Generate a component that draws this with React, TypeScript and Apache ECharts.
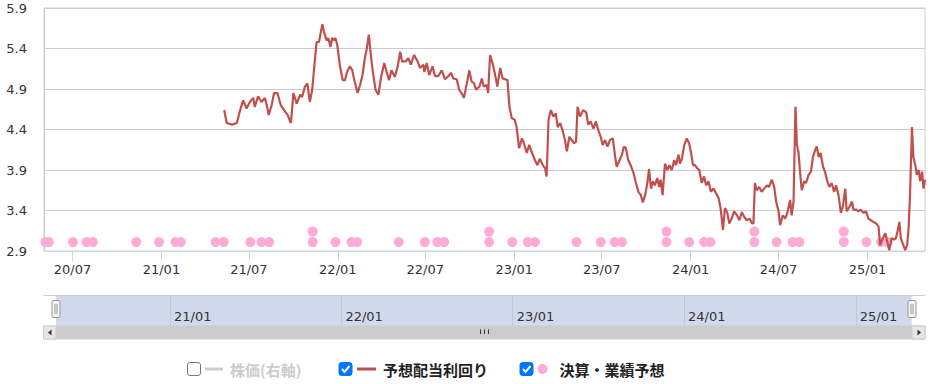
import React, { useEffect, useRef } from 'react';
import * as echarts from 'echarts';

// ---- data ----
const axisStart = '2020-05-03';
const axisEnd = '2025-04-30';

const xTickLabels = ['20/07', '21/01', '21/07', '22/01', '22/07', '23/01', '23/07', '24/01', '24/07', '25/01'];
const navTickLabels = ['21/01', '22/01', '23/01', '24/01', '25/01'];

const yMin = 2.9;
const yMax = 5.9;
const yStep = 0.5;

const seriesNames = ['株価(右軸)', '予想配当利回り', '決算・業績予想'];

// stock price series is hidden (legend unchecked) in the reference
const stockPoints: [string, number][] = [];

const yieldPoints: [string, number][] = [
  ['2021-05-11', 4.64], ['2021-05-16', 4.48], ['2021-05-27', 4.46], ['2021-06-06', 4.48],
  ['2021-06-12', 4.62], ['2021-06-19', 4.76], ['2021-06-26', 4.66], ['2021-07-03', 4.74],
  ['2021-07-10', 4.79], ['2021-07-13', 4.68], ['2021-07-20', 4.81], ['2021-07-27', 4.74],
  ['2021-08-03', 4.79], ['2021-08-07', 4.70], ['2021-08-11', 4.58], ['2021-08-17', 4.70],
  ['2021-08-22', 4.85], ['2021-08-29', 4.85], ['2021-09-05', 4.70], ['2021-09-14', 4.62],
  ['2021-09-19', 4.58], ['2021-09-26', 4.48], ['2021-10-01', 4.85], ['2021-10-08', 4.72],
  ['2021-10-15', 4.83], ['2021-10-19', 4.80], ['2021-10-25', 4.93], ['2021-10-30', 4.97],
  ['2021-11-04', 4.74], ['2021-11-09', 4.89], ['2021-11-13', 5.16], ['2021-11-18', 5.48],
  ['2021-11-23', 5.48], ['2021-11-30', 5.70], ['2021-12-04', 5.59], ['2021-12-09', 5.50],
  ['2021-12-12', 5.53], ['2021-12-17', 5.42], ['2021-12-20', 5.53], ['2021-12-25', 5.50],
  ['2021-12-27', 5.53], ['2021-12-31', 5.44], ['2022-01-05', 5.20], ['2022-01-11', 5.01],
  ['2022-01-16', 5.01], ['2022-01-20', 5.11], ['2022-01-26', 5.18], ['2022-01-31', 5.13],
  ['2022-02-04', 5.01], ['2022-02-11', 4.85], ['2022-02-16', 4.95], ['2022-02-21', 5.07],
  ['2022-02-26', 5.28], ['2022-03-02', 5.40], ['2022-03-06', 5.57], ['2022-03-11', 5.28],
  ['2022-03-15', 5.09], ['2022-03-20', 4.89], ['2022-03-26', 4.83], ['2022-03-31', 5.03],
  ['2022-04-07', 5.22], ['2022-04-12', 5.11], ['2022-04-17', 5.01], ['2022-04-22', 5.13],
  ['2022-04-29', 5.05], ['2022-05-05', 5.18], ['2022-05-10', 5.36], ['2022-05-14', 5.24],
  ['2022-05-21', 5.24], ['2022-05-27', 5.28], ['2022-06-01', 5.20], ['2022-06-08', 5.32],
  ['2022-06-15', 5.24], ['2022-06-20', 5.16], ['2022-06-27', 5.20], ['2022-06-29', 5.11],
  ['2022-07-04', 5.22], ['2022-07-09', 5.07], ['2022-07-16', 5.18], ['2022-07-21', 5.06],
  ['2022-07-28', 5.06], ['2022-08-04', 5.13], ['2022-08-11', 5.02], ['2022-08-18', 5.06],
  ['2022-08-23', 5.10], ['2022-08-28', 5.03], ['2022-09-04', 5.02], ['2022-09-09', 4.89],
  ['2022-09-14', 4.85], ['2022-09-19', 4.79], ['2022-09-25', 4.97], ['2022-09-30', 5.13],
  ['2022-10-05', 4.99], ['2022-10-10', 4.97], ['2022-10-14', 4.89], ['2022-10-21', 4.93],
  ['2022-10-26', 5.03], ['2022-10-30', 4.93], ['2022-11-05', 4.95], ['2022-11-08', 4.85],
  ['2022-11-12', 5.32], ['2022-11-17', 5.22], ['2022-11-22', 5.09], ['2022-11-27', 4.93],
  ['2022-12-03', 5.16], ['2022-12-08', 5.03], ['2022-12-13', 5.02], ['2022-12-18', 5.01],
  ['2022-12-22', 4.68], ['2022-12-27', 4.54], ['2023-01-02', 4.52], ['2023-01-06', 4.43],
  ['2023-01-11', 4.17], ['2023-01-17', 4.29], ['2023-01-21', 4.23], ['2023-01-27', 4.11],
  ['2023-02-01', 4.21], ['2023-02-07', 4.11], ['2023-02-13', 4.02], ['2023-02-18', 3.96],
  ['2023-02-23', 4.04], ['2023-03-01', 3.96], ['2023-03-06', 3.92], ['2023-03-09', 3.82],
  ['2023-03-13', 4.52], ['2023-03-18', 4.64], ['2023-03-23', 4.56], ['2023-03-28', 4.60],
  ['2023-04-01', 4.43], ['2023-04-06', 4.48], ['2023-04-11', 4.39], ['2023-04-16', 4.27],
  ['2023-04-20', 4.13], ['2023-04-25', 4.31], ['2023-04-30', 4.27], ['2023-05-05', 4.23],
  ['2023-05-09', 4.25], ['2023-05-12', 4.68], ['2023-05-17', 4.56], ['2023-05-24', 4.64],
  ['2023-05-30', 4.61], ['2023-06-03', 4.46], ['2023-06-08', 4.50], ['2023-06-14', 4.41],
  ['2023-06-19', 4.50], ['2023-06-24', 4.39], ['2023-06-29', 4.31], ['2023-07-03', 4.21],
  ['2023-07-08', 4.27], ['2023-07-13', 4.19], ['2023-07-18', 4.27], ['2023-07-24', 4.29],
  ['2023-07-29', 4.06], ['2023-08-01', 3.94], ['2023-08-07', 4.02], ['2023-08-12', 4.09],
  ['2023-08-16', 4.19], ['2023-08-20', 4.17], ['2023-08-25', 4.02], ['2023-08-30', 3.96],
  ['2023-09-05', 3.86], ['2023-09-10', 3.74], ['2023-09-15', 3.63], ['2023-09-20', 3.59],
  ['2023-09-24', 3.50], ['2023-09-29', 3.59], ['2023-10-04', 3.76], ['2023-10-07', 3.91],
  ['2023-10-11', 3.67], ['2023-10-15', 3.76], ['2023-10-19', 3.71], ['2023-10-24', 3.80],
  ['2023-10-28', 3.69], ['2023-10-31', 3.78], ['2023-11-04', 3.59], ['2023-11-09', 3.98],
  ['2023-11-14', 3.90], ['2023-11-18', 3.96], ['2023-11-23', 3.90], ['2023-11-28', 4.02],
  ['2023-12-02', 3.96], ['2023-12-07', 4.09], ['2023-12-10', 3.98], ['2023-12-14', 4.04],
  ['2023-12-19', 4.21], ['2023-12-24', 4.29], ['2023-12-29', 4.23], ['2024-01-02', 4.11],
  ['2024-01-06', 3.96], ['2024-01-10', 3.96], ['2024-01-15', 3.92], ['2024-01-19', 3.90],
  ['2024-01-24', 3.74], ['2024-01-29', 3.82], ['2024-02-02', 3.71], ['2024-02-07', 3.76],
  ['2024-02-12', 3.63], ['2024-02-17', 3.67], ['2024-02-23', 3.61], ['2024-02-28', 3.55],
  ['2024-03-03', 3.43], ['2024-03-08', 3.16], ['2024-03-12', 3.43], ['2024-03-17', 3.37],
  ['2024-03-21', 3.24], ['2024-03-26', 3.30], ['2024-03-31', 3.39], ['2024-04-06', 3.34],
  ['2024-04-11', 3.28], ['2024-04-16', 3.38], ['2024-04-21', 3.32], ['2024-04-26', 3.28],
  ['2024-05-02', 3.30], ['2024-05-07', 3.24], ['2024-05-10', 3.24], ['2024-05-13', 3.74],
  ['2024-05-17', 3.65], ['2024-05-22', 3.69], ['2024-05-27', 3.63], ['2024-06-01', 3.67],
  ['2024-06-07', 3.71], ['2024-06-11', 3.69], ['2024-06-17', 3.78], ['2024-06-22', 3.69],
  ['2024-06-26', 3.51], ['2024-07-01', 3.39], ['2024-07-04', 3.22], ['2024-07-10', 3.34],
  ['2024-07-15', 3.30], ['2024-07-19', 3.37], ['2024-07-25', 3.53], ['2024-07-28', 3.34],
  ['2024-08-01', 3.51], ['2024-08-05', 4.68], ['2024-08-08', 4.21], ['2024-08-11', 4.13],
  ['2024-08-15', 3.84], ['2024-08-18', 3.65], ['2024-08-23', 3.76], ['2024-08-27', 3.74],
  ['2024-09-01', 3.84], ['2024-09-06', 3.88], ['2024-09-10', 4.06], ['2024-09-15', 4.15],
  ['2024-09-18', 4.19], ['2024-09-22', 4.06], ['2024-09-26', 4.11], ['2024-10-01', 3.94],
  ['2024-10-05', 3.88], ['2024-10-10', 3.76], ['2024-10-14', 3.69], ['2024-10-19', 3.74],
  ['2024-10-24', 3.63], ['2024-10-28', 3.71], ['2024-11-02', 3.59], ['2024-11-07', 3.37],
  ['2024-11-11', 3.45], ['2024-11-16', 3.67], ['2024-11-19', 3.39], ['2024-11-25', 3.45],
  ['2024-11-30', 3.51], ['2024-12-03', 3.41], ['2024-12-09', 3.41], ['2024-12-13', 3.39],
  ['2024-12-18', 3.41], ['2024-12-24', 3.37], ['2024-12-29', 3.39], ['2025-01-03', 3.30],
  ['2025-01-08', 3.28], ['2025-01-13', 3.26], ['2025-01-19', 3.24], ['2025-01-24', 3.20],
  ['2025-01-27', 2.97], ['2025-02-02', 3.06], ['2025-02-07', 3.12], ['2025-02-11', 3.01],
  ['2025-02-15', 2.91], ['2025-02-20', 3.06], ['2025-02-25', 3.04], ['2025-03-01', 3.06],
  ['2025-03-04', 3.14], ['2025-03-08', 3.26], ['2025-03-11', 3.06], ['2025-03-15', 2.99],
  ['2025-03-20', 2.91], ['2025-03-24', 2.97], ['2025-03-27', 3.18], ['2025-03-30', 3.59],
  ['2025-04-03', 4.43], ['2025-04-06', 4.06], ['2025-04-10', 3.96], ['2025-04-13', 3.84],
  ['2025-04-17', 3.90], ['2025-04-20', 3.76], ['2025-04-24', 3.88], ['2025-04-27', 3.67],
  ['2025-04-30', 3.78],
];

const eventPoints: [string, number][] = [
  ['2020-05-06', 3.01], ['2020-05-13', 3.01], ['2020-07-02', 3.01], ['2020-07-30', 3.01],
  ['2020-08-12', 3.01], ['2020-11-10', 3.01], ['2020-12-27', 3.01], ['2021-01-30', 3.01],
  ['2021-02-10', 3.01], ['2021-04-23', 3.01], ['2021-05-10', 3.01], ['2021-07-04', 3.01],
  ['2021-07-27', 3.01], ['2021-08-12', 3.01], ['2021-11-10', 3.01], ['2021-11-10', 3.14],
  ['2021-12-27', 3.01], ['2022-01-29', 3.01], ['2022-02-10', 3.01], ['2022-05-07', 3.01],
  ['2022-06-30', 3.01], ['2022-07-26', 3.01], ['2022-08-09', 3.01], ['2022-11-10', 3.01],
  ['2022-11-10', 3.14], ['2022-12-28', 3.01], ['2023-01-29', 3.01], ['2023-02-13', 3.01],
  ['2023-05-10', 3.01], ['2023-06-29', 3.01], ['2023-07-28', 3.01], ['2023-08-12', 3.01],
  ['2023-11-12', 3.01], ['2023-11-12', 3.14], ['2023-12-29', 3.01], ['2024-01-29', 3.01],
  ['2024-02-11', 3.01], ['2024-05-12', 3.01], ['2024-05-12', 3.14], ['2024-06-27', 3.01],
  ['2024-07-30', 3.01], ['2024-08-13', 3.01], ['2024-11-13', 3.01], ['2024-11-13', 3.14],
  ['2024-12-30', 3.01], ['2025-01-29', 3.01], ['2025-02-12', 3.01],
];

// ---- helpers ----
const dayTime = (s: string) => {
  const [y, m, d] = s.split('-').map(Number);
  return new Date(y, m - 1, d).getTime();
};
const labelTime = (s: string) => {
  const [yy, mm] = s.split('/').map(Number);
  return new Date(2000 + yy, mm - 1, 1).getTime();
};
const xTickTimes = xTickLabels.map(labelTime);
const navTickTimes = navTickLabels.map(labelTime);
const findLabel = (times: number[], labels: string[]) => (v: number) => {
  for (let i = 0; i < times.length; i++) {
    if (Math.abs(times[i] - v) < 43200000) return labels[i];
  }
  return '';
};

const AXIS_FONT = 'DejaVu Sans';
const JP_FONT = 'Noto Sans CJK JP';

export default function App() {
  const ref = useRef<HTMLDivElement>(null);

  useEffect(() => {
    if (!ref.current) return;
    const chart = echarts.init(ref.current, undefined, { renderer: 'svg' });
    const tMin = dayTime(axisStart);
    const tMax = dayTime(axisEnd);

    const legendText = {
      fontFamily: JP_FONT,
      fontSize: 15,
      fontWeight: 'bold',
      color: '#222',
      lineHeight: 16,
      padding: [0, 0, 0, 2],
    };

    const checkbox = (x: number, checked: boolean) => {
      const els: any[] = [
        {
          type: 'rect',
          z: 100,
          shape: { x: x + 0.5, y: 362.5, width: 13, height: 13, r: 2.5 },
          style: checked
            ? { fill: '#0075ff', stroke: '#0075ff', lineWidth: 1 }
            : { fill: '#ffffff', stroke: '#767676', lineWidth: 1 },
        },
      ];
      if (checked) {
        els.push({
          type: 'polyline',
          z: 101,
          shape: { points: [[x + 3.5, 369], [x + 6, 372], [x + 11, 366]] },
          style: { stroke: '#ffffff', lineWidth: 2, fill: null },
        });
      }
      return els;
    };

    const handle = (x: number) => [
      {
        type: 'rect',
        z: 100,
        shape: { x: x + 0.5, y: 300.5, width: 8, height: 17, r: 1 },
        style: { fill: '#f2f2f2', stroke: '#999999', lineWidth: 1 },
      },
      {
        type: 'line',
        z: 101,
        shape: { x1: x + 3.5, y1: 304, x2: x + 3.5, y2: 314 },
        style: { stroke: '#999999', lineWidth: 1 },
      },
      {
        type: 'line',
        z: 101,
        shape: { x1: x + 5.5, y1: 304, x2: x + 5.5, y2: 314 },
        style: { stroke: '#999999', lineWidth: 1 },
      },
    ];

    const graphicElements: any[] = [
      {
        type: 'line',
        z: 100,
        shape: { x1: 43.5, y1: 295.5, x2: 925, y2: 295.5 },
        style: { stroke: '#cccccc', lineWidth: 1 },
      },
      {
        type: 'rect',
        z: 100,
        shape: { x: 43.5, y: 326, width: 881.5, height: 13 },
        style: { fill: '#cccccc', stroke: '#cccccc', lineWidth: 1 },
      },
      {
        type: 'rect',
        z: 101,
        shape: { x: 43.5, y: 326, width: 12.5, height: 13 },
        style: { fill: '#e6e6e6', stroke: '#cccccc', lineWidth: 1 },
      },
      {
        type: 'polygon',
        z: 102,
        shape: { points: [[48, 332.5], [51.5, 329.5], [51.5, 335.5]] },
        style: { fill: '#333333' },
      },
      {
        type: 'rect',
        z: 101,
        shape: { x: 912, y: 326, width: 13, height: 13 },
        style: { fill: '#e6e6e6', stroke: '#cccccc', lineWidth: 1 },
      },
      {
        type: 'polygon',
        z: 102,
        shape: { points: [[921, 332.5], [917.5, 329.5], [917.5, 335.5]] },
        style: { fill: '#333333' },
      },
      ...[480.5, 484.5, 488.5].map((x) => ({
        type: 'line',
        z: 102,
        shape: { x1: x, y1: 329.5, x2: x, y2: 334 },
        style: { stroke: '#333333', lineWidth: 1 },
      })),
      ...handle(51.5),
      ...handle(907.5),
      ...checkbox(187, false),
      ...checkbox(338.5, true),
      ...checkbox(519.5, true),
    ];

    const option: any = {
      animation: false,
      textStyle: { fontFamily: AXIS_FONT },
      grid: [
        {
          left: 44,
          right: 10,
          top: 8,
          height: 243,
          show: true,
          borderColor: '#cccccc',
          borderWidth: 1,
          backgroundColor: 'transparent',
        },
        {
          left: 56,
          right: 23.3,
          top: 296,
          height: 30,
          show: true,
          borderWidth: 0,
          backgroundColor: '#d1daed',
        },
      ],
      xAxis: [
        {
          type: 'value',
          gridIndex: 0,
          min: tMin,
          max: tMax,
          axisLine: { show: true, lineStyle: { color: '#ccd6eb', width: 1 } },
          axisTick: { show: true, customValues: xTickTimes, length: 10, lineStyle: { color: '#ccd6eb' } },
          axisLabel: {
            customValues: xTickTimes,
            formatter: findLabel(xTickTimes, xTickLabels),
            color: '#333',
            fontSize: 13,
            fontFamily: AXIS_FONT,
            margin: 12,
          },
          splitLine: { show: false },
        },
        {
          type: 'value',
          gridIndex: 1,
          min: tMin,
          max: tMax,
          axisLine: { show: false },
          axisTick: { show: false, customValues: navTickTimes },
          axisLabel: {
            customValues: navTickTimes,
            formatter: findLabel(navTickTimes, navTickLabels),
            inside: true,
            align: 'left',
            margin: 3,
            padding: [0, 0, 0, 4],
            color: '#333',
            fontSize: 13,
            fontFamily: AXIS_FONT,
          },
          splitLine: { show: true, lineStyle: { color: '#bfc8db', width: 1 } },
        },
      ],
      yAxis: [
        {
          type: 'value',
          gridIndex: 0,
          min: yMin,
          max: yMax,
          interval: yStep,
          axisLine: { show: true, lineStyle: { color: '#cccccc' } },
          axisTick: { show: false },
          axisLabel: {
            formatter: (v: number) => v.toFixed(1),
            color: '#333',
            fontSize: 13,
            fontFamily: AXIS_FONT,
            margin: 17,
          },
          splitLine: { show: true, lineStyle: { color: '#cccccc', width: 1 } },
        },
        { type: 'value', gridIndex: 0, show: false, splitLine: { show: false } },
        { type: 'value', gridIndex: 1, show: false, splitLine: { show: false } },
      ],
      legend: [
        {
          data: [{ name: seriesNames[0], icon: 'rect' }],
          left: 205,
          top: 361,
          padding: 0,
          itemWidth: 18,
          itemHeight: 3,
          inactiveColor: '#cccccc',
          selected: { [seriesNames[0]]: false },
          textStyle: legendText,
        },
        {
          data: [{ name: seriesNames[1], icon: 'rect' }],
          left: 357,
          top: 361,
          padding: 0,
          itemWidth: 19,
          itemHeight: 3,
          textStyle: legendText,
        },
        {
          data: [{ name: seriesNames[2], icon: 'circle' }],
          left: 537.5,
          top: 361,
          padding: 0,
          itemWidth: 20,
          itemHeight: 10,
          textStyle: legendText,
        },
      ],
      series: [
        {
          name: seriesNames[0],
          type: 'line',
          xAxisIndex: 0,
          yAxisIndex: 1,
          symbol: 'none',
          data: stockPoints.map(([d, v]) => [dayTime(d), v]),
          lineStyle: { color: '#7f7f7f', width: 2 },
          itemStyle: { color: '#7f7f7f' },
        },
        {
          name: seriesNames[1],
          type: 'line',
          xAxisIndex: 0,
          yAxisIndex: 0,
          symbol: 'none',
          showSymbol: false,
          data: yieldPoints.map(([d, v]) => [dayTime(d), v]),
          lineStyle: { color: '#c0504d', width: 2.2 },
          itemStyle: { color: '#c0504d' },
          z: 3,
        },
        {
          name: seriesNames[2],
          type: 'scatter',
          xAxisIndex: 0,
          yAxisIndex: 0,
          symbol: 'circle',
          symbolSize: 10,
          data: eventPoints.map(([d, v]) => [dayTime(d), v]),
          itemStyle: { color: '#ffabd8', opacity: 1 },
          z: 2,
        },
      ],
      graphic: { elements: graphicElements },
    };

    chart.setOption(option);
    return () => {
      chart.dispose();
    };
  }, []);

  return (
    <div
      ref={ref}
      style={{ position: 'fixed', left: 0, top: 0, width: 935, height: 384, background: '#ffffff' }}
    />
  );
}
